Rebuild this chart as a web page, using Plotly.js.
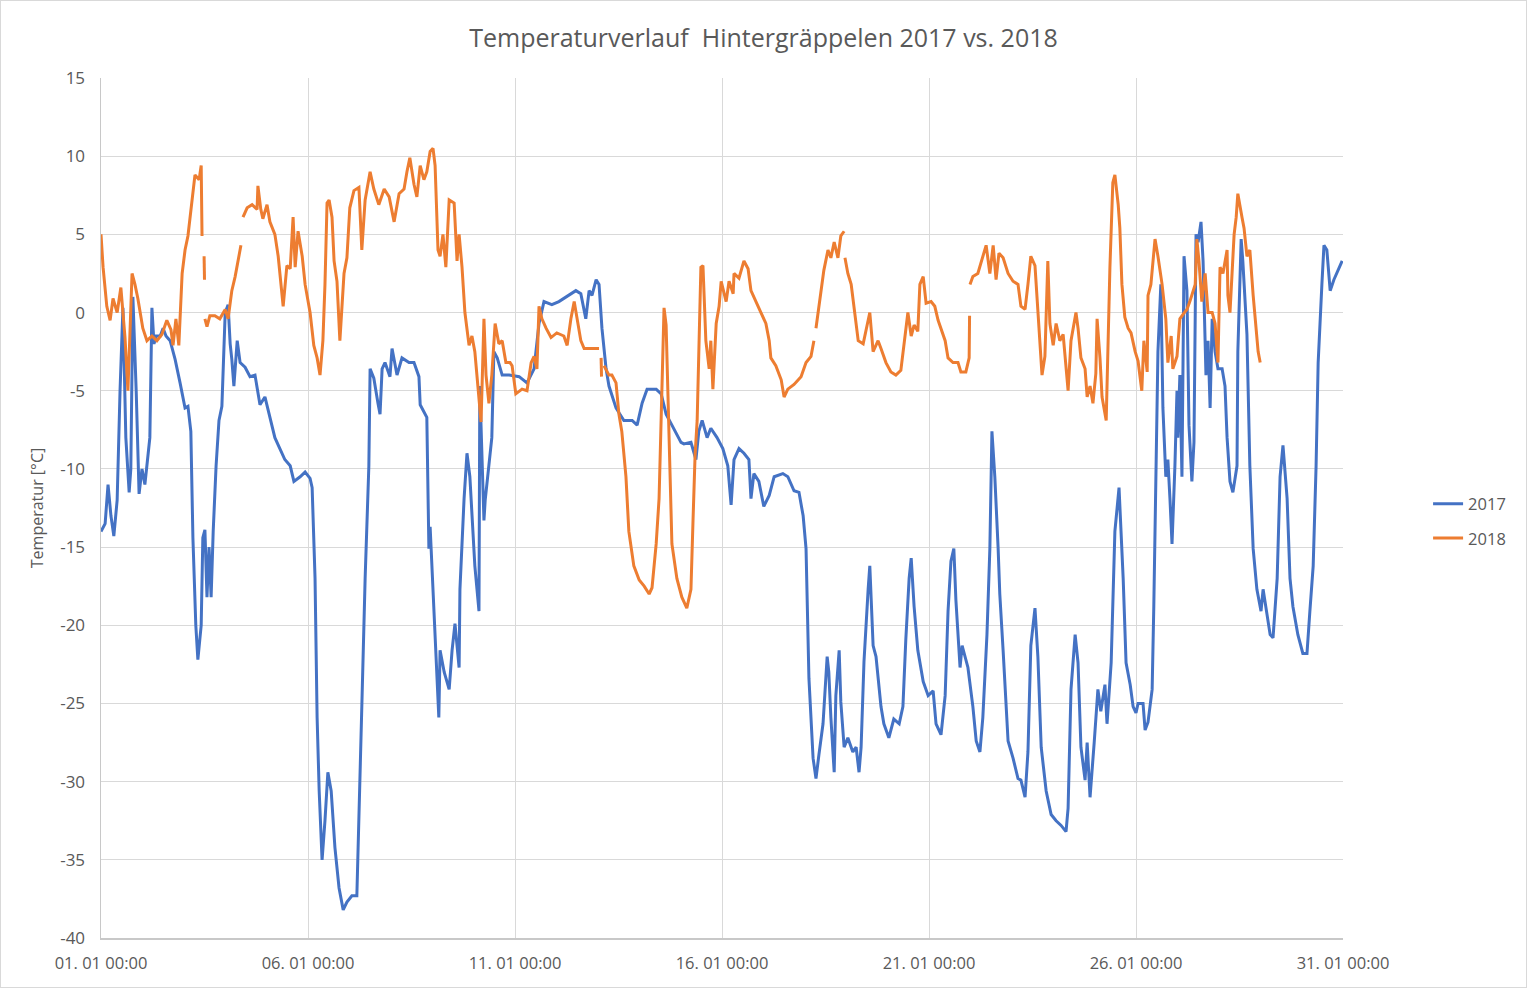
<!DOCTYPE html>
<html>
<head>
<meta charset="utf-8">
<script src="https://cdn.plot.ly/plotly-3.0.1.min.js"></script>
<style>
  body { margin: 0; background: #fff; }
  #chart { width: 1525px; height: 986px; border: 1px solid #d9d9d9; }
</style>
</head>
<body>
<div id="chart"></div>
<script>
'use strict'

// days after 01.01 00:00 and temperature in °C
const days2017 = [0,0.10,0.17,0.24,0.31,0.39,0.46,0.53,0.60,0.68,0.72,0.77,0.85,0.92,0.99,1.06,1.14,1.18,1.23,1.28,1.33,1.43,1.50,1.57,1.67,1.79,1.91,2.03,2.10,2.17,2.22,2.29,2.34,2.42,2.46,2.51,2.56,2.61,2.66,2.71,2.78,2.85,2.92,3.00,3.07,3.12,3.16,3.21,3.29,3.36,3.48,3.60,3.72,3.84,3.96,4.08,4.20,4.32,4.44,4.57,4.66,4.81,4.93,5.05,5.10,5.17,5.22,5.27,5.34,5.41,5.48,5.56,5.65,5.75,5.85,5.94,6.06,6.18,6.23,6.30,6.38,6.47,6.50,6.59,6.69,6.74,6.79,6.86,6.98,7.03,7.15,7.27,7.44,7.56,7.68,7.71,7.87,7.92,7.95,8.04,8.16,8.19,8.29,8.41,8.48,8.55,8.65,8.67,8.77,8.84,8.91,9.03,9.13,9.15,9.25,9.28,9.37,9.44,9.49,9.57,9.69,9.86,10.10,10.29,10.46,10.58,10.70,10.89,11.06,11.30,11.47,11.59,11.71,11.79,11.86,11.96,12.03,12.10,12.20,12.27,12.44,12.63,12.83,12.95,13.07,13.19,13.41,13.53,13.65,13.79,14.01,14.08,14.25,14.37,14.44,14.52,14.64,14.73,14.88,15.02,15.14,15.22,15.29,15.41,15.53,15.65,15.70,15.77,15.89,16.01,16.14,16.26,16.47,16.59,16.74,16.86,16.96,17.03,17.08,17.10,17.20,17.27,17.34,17.44,17.54,17.58,17.63,17.71,17.75,17.83,17.87,17.95,18.04,18.16,18.24,18.31,18.36,18.43,18.53,18.57,18.65,18.72,18.84,18.91,19.03,19.15,19.28,19.37,19.44,19.52,19.57,19.64,19.73,19.86,19.98,20.10,20.17,20.29,20.39,20.46,20.53,20.60,20.65,20.75,20.80,20.94,21.06,21.14,21.23,21.30,21.40,21.47,21.52,21.59,21.67,21.71,21.79,21.91,22.03,22.15,22.22,22.32,22.39,22.46,22.56,22.63,22.71,22.83,22.95,23.07,23.19,23.31,23.36,23.43,23.53,23.60,23.67,23.77,23.82,23.89,23.99,24.08,24.15,24.25,24.30,24.40,24.49,24.59,24.69,24.76,24.86,24.93,25.00,25.05,25.17,25.22,25.29,25.39,25.43,25.48,25.53,25.60,25.65,25.72,25.77,25.82,25.87,25.94,25.99,26.01,26.06,26.11,26.16,26.23,26.28,26.35,26.40,26.45,26.50,26.57,26.62,26.69,26.74,26.79,26.84,26.91,26.98,27.08,27.15,27.20,27.27,27.34,27.44,27.46,27.54,27.58,27.68,27.75,27.83,27.92,28.02,28.07,28.16,28.24,28.31,28.41,28.48,28.55,28.65,28.72,28.79,28.91,29.03,29.13,29.20,29.28,29.35,29.40,29.49,29.54,29.61,29.69,29.78,29.88,29.98];
const temp2017 = [-14,-13.5,-11,-13,-14.3,-12,-5,0.3,-8,-11.5,-10,1,-5,-11.6,-10,-11,-9,-8,0.3,-2,-1.5,-1.5,-1,-1.5,-1.8,-3,-4.5,-6.1,-6,-7.6,-14.4,-20,-22.2,-20,-14.4,-13.9,-18.2,-15,-18.2,-14,-9.8,-6.9,-6,0,0.5,-2,-3,-4.7,-1.8,-3.2,-3.5,-4.1,-4,-5.9,-5.4,-6.7,-8,-8.7,-9.4,-9.8,-10.8,-10.5,-10.2,-10.6,-11.2,-17,-25.9,-30.6,-35,-32.5,-29.4,-30.6,-34.2,-36.8,-38.2,-37.7,-37.3,-37.3,-31.4,-25.2,-17,-9.8,-3.6,-4.2,-5.8,-6.5,-3.6,-3.2,-4.1,-2.3,-4,-2.9,-3.2,-3.2,-4.1,-5.9,-6.7,-15.1,-13.7,-18.8,-25.9,-21.6,-23,-24.1,-21.6,-19.9,-22.7,-17.7,-11.9,-9,-10.5,-16.2,-19.1,-4.7,-13.3,-12,-9.8,-8,-2.5,-2.9,-4,-4,-4.1,-4.5,-3.6,-0.7,0.7,0.5,0.7,1.1,1.4,1.2,-0.4,1.4,1.1,2.1,1.8,-1,-3.6,-4.7,-6.1,-6.9,-6.9,-7.2,-5.8,-4.9,-4.9,-5.2,-6.5,-7.2,-8.3,-8.4,-8.3,-9.4,-7.6,-6.9,-8,-7.4,-8,-8.7,-9.8,-12.3,-9.4,-8.7,-9,-9.4,-11.9,-10.3,-10.8,-12.4,-11.7,-10.5,-10.3,-10.5,-11.4,-11.5,-13,-15.1,-21.3,-23.4,-28.5,-29.8,-28.3,-26.3,-22,-23,-25.9,-29.4,-24.5,-21.6,-24.9,-27.8,-27.2,-28.1,-27.8,-29.4,-27.8,-22.3,-17.7,-16.2,-21.3,-22,-25.2,-26.3,-27.2,-26,-26.3,-25.2,-20.9,-17,-15.7,-18.8,-21.6,-23.6,-24.5,-24.2,-26.3,-27,-24.5,-19.1,-15.9,-15.1,-18.4,-22.7,-21.3,-22.7,-25.2,-27.4,-28.1,-25.9,-20.6,-15.1,-7.6,-10.5,-15.1,-18,-21.6,-27.4,-28.5,-29.8,-29.9,-31,-28.1,-21.3,-18.9,-22,-27.8,-30.6,-32.1,-32.5,-32.8,-33.2,-31.7,-24.1,-20.6,-22.4,-27.8,-29.9,-27.5,-31,-27.5,-24.1,-25.5,-23.8,-26.3,-22.4,-14,-11.2,-17,-22.4,-23.8,-25.2,-25.6,-25,-25,-26.7,-26.2,-24.1,-18.8,-11.5,-2.5,1.8,-6.1,-10.5,-9.4,-11.9,-14.8,-9.8,-5,-8,-4,-10.5,3.6,1.4,-7.2,-10.8,-8.3,5,4.5,5.8,3.3,-4,-1.8,-6.1,-0.4,-2.5,-3.6,-3.6,-4.7,-8,-10.8,-11.5,-9.8,-2.5,4.7,3.3,-1.4,-9.8,-15.1,-17.7,-19.1,-17.7,-19.1,-20.6,-20.8,-17,-10.5,-8.5,-11.9,-17,-18.8,-20.6,-21.8,-21.8,-19.1,-16.2,-9.8,-3.2,1.8,4.3,4,1.4,2.1,2.7,3.3];

// null = gap in the logger record
const days2018 = [0,0.05,0.14,0.22,0.29,0.39,0.48,0.58,0.65,0.75,0.82,0.89,1.01,1.11,1.23,1.35,1.47,1.59,1.69,1.74,1.81,1.88,1.96,2.03,2.10,2.20,2.27,2.37,2.42,2.44,2.46,2.49,2.50,2.505,2.51,2.56,2.63,2.75,2.87,3.00,3.07,3.16,3.24,3.31,3.38,3.40,3.43,3.53,3.65,3.77,3.79,3.86,3.91,4.01,4.08,4.20,4.28,4.35,4.40,4.49,4.57,4.64,4.69,4.76,4.86,4.93,5.05,5.14,5.22,5.29,5.36,5.41,5.46,5.51,5.58,5.63,5.70,5.77,5.87,5.94,6.01,6.11,6.23,6.30,6.38,6.50,6.59,6.71,6.84,6.96,7.08,7.20,7.32,7.39,7.46,7.56,7.63,7.71,7.80,7.87,7.95,8.02,8.07,8.14,8.19,8.26,8.33,8.41,8.53,8.60,8.65,8.72,8.79,8.89,8.96,9.03,9.13,9.18,9.25,9.30,9.37,9.44,9.52,9.61,9.69,9.78,9.88,9.93,10.02,10.17,10.29,10.39,10.46,10.53,10.58,10.65,10.75,10.87,11.01,11.18,11.26,11.35,11.43,11.50,11.59,11.67,11.84,11.96,12.03,12.05,12.08,12.09,12.12,12.15,12.27,12.34,12.44,12.51,12.58,12.68,12.75,12.87,13.00,13.12,13.24,13.31,13.41,13.48,13.55,13.60,13.65,13.72,13.79,13.91,14.03,14.15,14.25,14.30,14.35,14.40,14.49,14.54,14.61,14.69,14.73,14.78,14.86,14.93,14.98,15.10,15.17,15.27,15.29,15.41,15.53,15.63,15.70,15.82,15.94,16.06,16.14,16.18,16.30,16.43,16.50,16.59,16.74,16.91,17.03,17.15,17.22,17.25,17.27,17.34,17.46,17.56,17.63,17.71,17.80,17.87,17.95,17.96,17.97,18.04,18.12,18.19,18.29,18.41,18.48,18.57,18.65,18.77,18.84,18.96,19.08,19.20,19.32,19.40,19.49,19.57,19.64,19.73,19.78,19.86,19.93,20.05,20.14,20.22,20.29,20.39,20.46,20.58,20.70,20.77,20.89,20.97,20.98,20.985,20.99,21.06,21.18,21.30,21.38,21.47,21.55,21.62,21.69,21.79,21.91,22.03,22.15,22.22,22.32,22.39,22.46,22.56,22.63,22.68,22.73,22.80,22.87,22.92,23.00,23.07,23.16,23.24,23.31,23.36,23.43,23.55,23.60,23.67,23.77,23.82,23.89,23.96,24.03,24.06,24.13,24.18,24.28,24.32,24.37,24.44,24.49,24.57,24.61,24.66,24.73,24.81,24.88,24.98,25.05,25.14,25.19,25.27,25.29,25.36,25.41,25.46,25.53,25.63,25.72,25.77,25.85,25.89,25.99,26.06,26.14,26.23,26.30,26.38,26.43,26.47,26.52,26.59,26.67,26.74,26.84,26.91,26.98,27.03,27.10,27.20,27.22,27.27,27.32,27.37,27.42,27.46,27.56,27.61,27.68,27.75,27.83,27.90,27.95,28.00];
const temp2018 = [5,2.9,0.4,-0.5,0.9,0,1.6,-1.6,-5,2.5,1.8,0.9,-1,-1.8,-1.5,-1.8,-1.4,-0.5,-1.1,-2.1,-0.4,-2.1,2.5,4,4.9,7,8.8,8.5,9.4,4.9,null,3.6,2.1,null,-0.4,-0.9,-0.2,-0.2,-0.4,0.2,-0.4,1.4,2.3,3.3,4.3,null,6.1,6.7,6.9,6.6,8.1,6.6,6,6.9,5.8,5,3.6,1.6,0.4,3,2.8,6.1,2.9,5.2,3.6,1.8,0,-2.1,-2.9,-4,-1.8,1.8,7,7.2,6.1,3.3,2,-1.8,2.5,3.5,6.7,7.8,8,4,7.2,9,7.9,6.9,7.9,7.4,5.8,7.6,7.9,9,9.9,8.2,7.4,9.4,8.5,9,10.3,10.5,9.4,4,3.6,5,2.9,7.2,7,3.3,5,2.9,0,-2.1,-1.5,-2.5,-5.4,-7,-0.4,-4,-5.8,-4,-0.7,-2,-1.8,-3.2,-3.2,-3.4,-5.2,-4.9,-5,-3.2,-2.8,-3.6,0.4,-0.4,-1,-1.6,-1.3,-1.5,-2.1,-0.4,0.7,-0.5,-1.8,-2.3,-2.3,-2.3,-2.3,null,-2.9,-4.1,null,-3.4,-4,-4,-4.5,-6.5,-7.6,-10.5,-14,-16.2,-17.1,-17.5,-18,-17.6,-14.8,-11.9,-4.7,0.3,-0.8,-8.3,-14.8,-17,-18.2,-18.9,-17.7,-13.3,-9.1,-6.9,2.9,3,-1.8,-3.6,-1.8,-4.9,-0.7,0.4,2,0.7,2,1.2,2.5,2.2,3.3,2.8,1.4,0.7,0,-0.7,-1.8,-2.9,-3.4,-4.3,-5.4,-4.9,-4.6,-4.1,-3.2,-2.8,-1.8,null,-1,0.4,2.7,4,3.5,4.5,3.5,4.9,5.2,null,3.5,2.5,1.8,0.4,-1.8,-2,-1.2,0,-2.5,-1.8,-2.3,-3.2,-3.8,-4,-3.7,-2.1,0,-1.5,-0.8,-1.2,1.8,2.3,0.6,0.7,0.4,-0.5,-1,-1.8,-2.9,-3.2,-3.2,-3.8,-3.8,-2.9,-0.2,null,1.8,2.3,2.5,3.6,4.3,2.5,4.3,2.1,3.8,3.5,2.5,2,1.8,0.4,0.2,1.8,3.6,3,0,-2.1,-4,-2.8,3.3,-0.7,-2.1,-0.7,-1.8,-1.4,-3.6,-5,-1.8,0,-1,-2.9,-3.6,-5.4,-4.7,-5.8,-3.9,-0.4,-2.9,-5.4,-6.9,-1.8,2.9,8.3,8.8,6.9,5.4,1.8,-0.3,-1,-1.3,-2.5,-3.1,-5,-1.8,-3.8,1.1,1.8,3.3,4.7,3.6,1.8,-0.4,-3.2,-1.5,-3.6,-2.8,-0.4,-0.1,0.2,0.7,1.3,1.8,4.7,3.3,0.7,2.5,0,0,-0.7,-3.2,2.9,2.5,4,1.1,0,2.5,5,6.1,7.6,6.1,5.4,3.6,4,1.1,-1,-2.5,-3.2];

const yTicks = [-40,-35,-30,-25,-20,-15,-10,-5,0,5,10,15];
const yTickText = yTicks.map(String);

const start = Date.UTC(2018, 0, 1);
let toDate = function(d) {
    return new Date(start + d * 864e5).toISOString().slice(0, 19).replace('T', ' ');
}

let series = function(name, days, temps, color, group) {
    return {
        x: days.map(toDate),
        y: temps,
        type: 'scatter',
        mode: 'lines',
        name: name,
        legendgroup: group,
        line: { color: color, width: 3 },
        connectgaps: false,
        hoverinfo: 'x+y'
    }
}

const traces = [
    series('2017', days2017, temp2017, '#4472c4', 'a'),
    series('2018', days2018, temp2018, '#ed7d31', 'b')
];

const gridColor = '#d9d9d9';
const axisColor = '#c8c8c8';
const textColor = '#595959';

const layout = {
    width: 1525,
    height: 986,
    margin: { l: 100, r: 183, t: 77, b: 49 },
    paper_bgcolor: '#ffffff',
    plot_bgcolor: '#ffffff',
    font: { family: 'Open Sans, sans-serif', size: 16, color: textColor },
    title: {
        text: 'Temperaturverlauf  Hintergräppelen 2017 vs. 2018',
        font: { size: 25, color: textColor },
        x: 0.5,
        xanchor: 'center',
        y: 0.962,
        yanchor: 'middle'
    },
    xaxis: {
        type: 'date',
        range: ['2018-01-01 00:00', '2018-01-31 00:00'],
        tick0: '2018-01-01 00:00',
        dtick: 5 * 864e5,
        tickformat: '%d. %m %H:%M',
        tickfont: { size: 16.5, color: textColor },
        showgrid: true,
        gridcolor: gridColor,
        gridwidth: 1,
        zeroline: false,
        showline: true,
        linecolor: axisColor,
        linewidth: 1.5,
        ticks: '',
        ticklabelstandoff: 10,
        fixedrange: true
    },
    yaxis: {
        range: [-40, 15],
        tickmode: 'array',
        tickvals: yTicks,
        ticktext: yTickText,
        tickfont: { size: 17, color: textColor },
        showgrid: true,
        gridcolor: gridColor,
        gridwidth: 1,
        zeroline: false,
        showline: true,
        linecolor: axisColor,
        linewidth: 1.5,
        ticks: '',
        ticklabelstandoff: 11,
        title: { text: 'Temperatur [°C]', font: { size: 16, color: textColor }, standoff: 12 },
        fixedrange: true
    },
    showlegend: true,
    legend: {
        x: 1.0685,
        xanchor: 'left',
        y: 0.485,
        yanchor: 'middle',
        traceorder: 'grouped',
        tracegroupgap: 10,
        font: { size: 16.5, color: textColor },
        bgcolor: 'rgba(0,0,0,0)'
    }
};

Plotly.newPlot('chart', traces, layout, { displayModeBar: false, staticPlot: true });
</script>
</body>
</html>
